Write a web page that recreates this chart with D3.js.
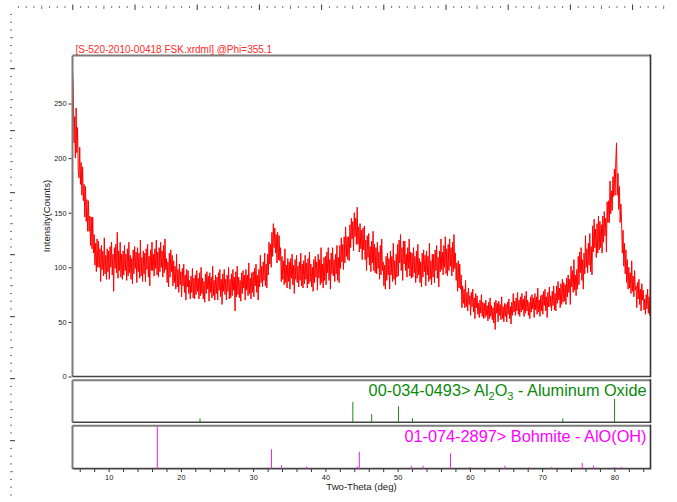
<!DOCTYPE html>
<html><head><meta charset="utf-8">
<script src="https://cdn.jsdelivr.net/npm/d3@7"></script>
<style>
body{margin:0;background:#fff}
svg{display:block}
text{font-family:"Liberation Sans",Arial,sans-serif}
</style>
</head><body>
<svg id="c" width="677" height="502"></svg>
<script>
const titleText = "[S-520-2010-00418 FSK.xrdml] @Phi=355.1";
const xLabel = "Two-Theta (deg)";
const yLabel = "Intensity(Counts)";
const twoThetaStart = 5, twoThetaStep = 0.1;
const intensity = [
280,268,214,238,200,246,205,228,188,182,
210,176,196,166,192,161,176,146,174,142,
162,133,161,133,147,120,146,117,146,113,
130,102,122,96,126,100,124,100,117,87,
120,98,115,92,127,94,111,89,117,96,
115,89,119,100,123,93,112,78,118,99,
121,95,132,90,115,97,123,91,112,89,
115,93,120,97,112,88,117,92,123,95,
111,89,108,85,116,94,119,99,114,86,
118,96,113,90,125,92,109,87,115,94,
113,87,117,98,121,91,110,83,116,97,
123,97,112,92,117,99,125,93,114,91,
118,96,123,100,115,91,120,95,126,98,
108,86,105,82,113,91,116,96,111,83,
106,86,101,80,112,82,98,77,103,84,
96,73,99,83,103,77,93,70,98,82,
97,76,88,71,92,77,99,72,90,71,
93,75,97,78,90,71,95,74,100,76,
90,71,87,68,94,76,96,80,92,69,
95,77,91,72,101,74,88,70,93,76,
91,70,95,79,98,73,89,66,94,78,
98,75,89,70,93,78,100,71,89,72,
94,74,98,79,91,60,96,73,101,75,
91,72,88,69,95,76,97,81,93,70,
98,79,93,74,104,76,90,71,95,77,
96,73,99,83,103,77,93,70,98,82,
111,86,101,82,105,88,113,83,103,81,
112,93,123,103,121,100,132,110,140,118,
136,113,130,104,132,107,129,106,118,87,
110,89,106,84,117,86,102,81,108,87,
105,80,108,90,112,84,102,76,107,89,
111,86,101,82,105,88,113,83,103,81,
106,85,111,89,104,81,108,85,114,87,
103,82,100,78,107,86,110,91,105,79,
112,90,107,84,118,86,103,81,109,88,
110,84,114,95,118,88,107,80,113,94,
118,92,107,87,112,94,120,88,109,86,
120,99,127,105,121,98,128,104,137,110,
128,107,128,106,139,118,145,126,142,115,
150,128,145,121,155,121,137,114,140,117,
134,107,136,116,138,107,125,97,129,109,
131,102,119,96,124,104,133,97,121,95,
118,94,123,99,114,89,120,93,126,97,
105,83,102,80,110,88,113,93,108,80,
115,93,110,87,122,89,106,84,112,91,
121,92,125,104,130,97,118,88,124,103,
124,97,112,91,118,99,126,92,114,90,
113,91,118,95,110,86,115,90,121,93,
108,86,105,82,113,91,116,96,111,83,
115,93,110,87,122,89,106,84,112,91,
112,86,116,97,120,90,109,82,115,96,
126,98,114,93,120,100,128,94,117,92,
121,97,126,101,118,92,123,96,130,99,
113,88,104,78,106,81,103,80,93,63,
83,67,80,63,88,64,77,60,81,66,
74,56,77,64,80,59,72,53,76,63,
74,57,67,54,70,58,75,55,68,53,
67,54,70,56,65,51,68,53,72,55,
65,52,63,49,68,43,70,58,67,50,
69,56,66,52,73,53,64,50,67,55,
66,50,68,57,71,53,64,48,68,56,
76,59,69,56,72,60,77,57,70,55,
73,59,76,61,71,55,74,58,78,60,
70,56,68,53,73,59,75,62,72,54,
76,61,73,57,81,59,70,55,74,60,
75,57,78,65,80,60,73,54,77,64,
82,64,74,60,78,65,83,61,76,60,
83,67,87,70,81,63,85,66,89,68,
86,69,84,66,90,73,93,77,89,66,
101,82,97,77,107,79,93,74,98,80,
110,84,114,95,118,88,107,80,113,94,
129,100,117,95,122,102,131,96,119,93,
138,114,144,118,135,109,140,113,147,116,
142,118,139,113,147,123,151,129,145,114,
160,141,161,141,179,149,170,152,183,165,
190,166,198,214,166,186,153,174,141,158,
142,113,134,101,122,94,116,86,107,80,
100,81,95,76,106,78,92,73,97,79,
83,63,86,71,89,66,80,60,85,70,
79,61,71,57,75,62,80,58,73,56,
99
];
const yTicks = [0, 50, 100, 150, 200, 250];
const xTicks = [6,8,10,12,14,16,18,20,22,24,26,28,30,32,34,36,38,40,42,44,46,48,50,52,54,56,58,60,62,64,66,68,70,72,74,76,78,80,82,84];
const xTickLabels = [10, 20, 30, 40, 50, 60, 70, 80];

const al2o3Name = ["00-034-0493> Al", "2", "O", "3", " - Aluminum Oxide"];
const al2o3Pos = [22.65, 43.80, 46.41, 50.12, 52.06, 72.86, 80.02];
const al2o3Int = [17, 87, 35, 68, 17, 17, 100];

const bohmiteName = "01-074-2897> Bohmite - AlO(OH)";
const bohmitePos = [16.74, 32.54, 33.93, 37.39, 44.38, 44.70, 51.89, 53.51, 57.32, 60.02, 64.86, 68.18, 71.32, 75.55, 77.11, 80.0, 80.96];
const bohmiteInt = [100, 46, 8, 5, 5, 40, 7, 7, 36, 4, 7, 3, 4, 14, 7, 4, 4];

const svg = d3.select("#c");
const L = 72.5, R = 650.5;
const main = {t: 55.5, b: 376.5};
const p2 = {t: 380.2, b: 422.2};
const p3 = {t: 425.7, b: 468.6};

const x = d3.scaleLinear().domain([5, 85]).range([L, R]);
const y = d3.scaleLinear().domain([0, 294]).range([main.b, main.t]);
const y2 = d3.scaleLinear().domain([0, 180]).range([p2.b, p2.t]);
const y3 = d3.scaleLinear().domain([0, 102]).range([p3.b, p3.t]);

// decorative rulers
const topR = svg.append("g");
topR.selectAll("line").data(d3.range(-7, 77)).join("line")
  .attr("x1", k => 72.3 + k * 7.775 + 0.5).attr("x2", k => 72.3 + k * 7.775 + 0.5)
  .attr("y1", k => k % 8 === 0 ? 4.5 : (k % 4 === 0 ? 5.5 : 6))
  .attr("y2", k => k % 8 === 0 ? 10 : (k % 4 === 0 ? 9 : 8))
  .attr("stroke", k => k % 8 === 0 ? "#333" : "#777").attr("stroke-width", 1);
const leftR = svg.append("g");
leftR.selectAll("line").data(d3.range(-15, 48)).join("line")
  .attr("y1", k => 130.7 + k * 7.75).attr("y2", k => 130.7 + k * 7.75)
  .attr("x1", 10)
  .attr("x2", k => k % 8 === 0 ? 15 : (k % 4 === 0 ? 13 : 12))
  .attr("stroke", k => k % 8 === 0 ? "#333" : "#777").attr("stroke-width", 1);

// clip
svg.append("clipPath").attr("id", "mc").append("rect")
  .attr("x", L).attr("y", main.t).attr("width", R - L).attr("height", main.b - main.t);

// main line
const line = d3.line()
  .x((d, i) => x(twoThetaStart + i * twoThetaStep))
  .y(d => y(d));
svg.append("path").datum(intensity)
  .attr("clip-path", "url(#mc)")
  .attr("d", line).attr("fill", "none").attr("stroke", "#ff0000").attr("stroke-width", 1);

// panel borders
function border(p) {
  svg.append("line").attr("x1", L).attr("x2", R).attr("y1", p.t).attr("y2", p.t).attr("stroke", "#7c7c7c").attr("stroke-width", 2);
  svg.append("line").attr("x1", L).attr("x2", L).attr("y1", p.t).attr("y2", p.b).attr("stroke", "#7c7c7c").attr("stroke-width", 2);
  svg.append("line").attr("x1", L).attr("x2", R).attr("y1", p.b).attr("y2", p.b).attr("stroke", "#444").attr("stroke-width", 1.6);
  svg.append("line").attr("x1", R).attr("x2", R).attr("y1", p.t - 1).attr("y2", p.b + 0.8).attr("stroke", "#333").attr("stroke-width", 1.6);
}
border(main); border(p2); border(p3);

// title
svg.append("text").attr("x", 75.5).attr("y", 53).attr("font-size", 10).attr("fill", "#ff2a2a").text(titleText);

// y axis
const ya = svg.append("g").attr("transform", `translate(${L - 1},0)`)
  .call(d3.axisLeft(y).tickValues(yTicks).tickSize(3).tickPadding(2));
ya.select(".domain").remove();
ya.selectAll("line").attr("stroke", "#333");
ya.selectAll("text").attr("font-size", 7.4).attr("fill", "#222").attr("font-family", "'Liberation Sans',Arial,sans-serif");

svg.append("text").attr("transform", "translate(49.5,216) rotate(-90)")
  .attr("text-anchor", "middle").attr("font-size", 9.6).attr("fill", "#222").text(yLabel);

// x axis
const xa = svg.append("g").attr("transform", `translate(0,${p3.b + 0.5})`)
  .call(d3.axisBottom(x).tickValues(xTicks).tickSize(3).tickPadding(2.5)
    .tickFormat(d => xTickLabels.includes(d) ? d : ""));
xa.select(".domain").remove();
xa.selectAll("line").attr("stroke", "#333");
xa.selectAll("text").attr("font-size", 7.4).attr("fill", "#222").attr("font-family", "'Liberation Sans',Arial,sans-serif");

svg.append("text").attr("x", (L + R) / 2).attr("y", 489.5).attr("text-anchor", "middle")
  .attr("font-size", 9.6).attr("fill", "#222").text(xLabel);

// Al2O3 sticks
svg.append("g").selectAll("line").data(al2o3Pos).join("line")
  .attr("x1", d => x(d)).attr("x2", d => x(d))
  .attr("y1", y2(0)).attr("y2", (d, i) => y2(al2o3Int[i]))
  .attr("stroke", "#1a8f1a").attr("stroke-width", 1);
const t2 = svg.append("text").attr("x", 646.5).attr("y", 396).attr("text-anchor", "end")
  .attr("font-size", 16.3).attr("fill", "#0a8a0a");
t2.append("tspan").text(al2o3Name[0]);
t2.append("tspan").attr("font-size", 11).attr("dy", 3.5).text(al2o3Name[1]);
t2.append("tspan").attr("dy", -3.5).text(al2o3Name[2]);
t2.append("tspan").attr("font-size", 11).attr("dy", 3.5).text(al2o3Name[3]);
t2.append("tspan").attr("dy", -3.5).text(al2o3Name[4]);

// Bohmite sticks
svg.append("g").selectAll("line").data(bohmitePos).join("line")
  .attr("x1", d => x(d)).attr("x2", d => x(d))
  .attr("y1", y3(0)).attr("y2", (d, i) => y3(bohmiteInt[i]))
  .attr("stroke", "#ee22ee").attr("stroke-width", 1);
svg.append("text").attr("x", 646.5).attr("y", 441.7).attr("text-anchor", "end")
  .attr("font-size", 16.3).attr("fill", "#ff00ff").text(bohmiteName);
</script>
</body></html>
